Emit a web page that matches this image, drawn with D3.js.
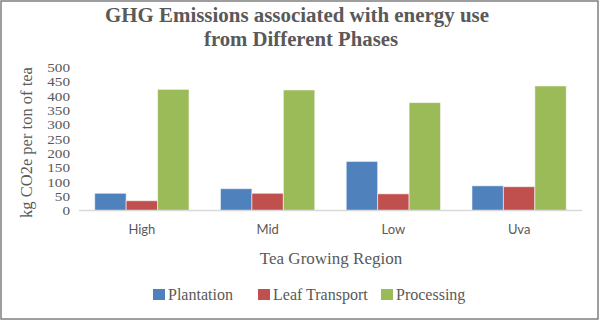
<!DOCTYPE html>
<html>
<head>
<meta charset="utf-8">
<script src="https://cdn.jsdelivr.net/npm/d3@7"></script>
<style>
html,body{margin:0;padding:0;background:#fff;}
svg{display:block;}
.serif{font-family:"Liberation Serif","Times New Roman",Times,"DejaVu Serif",serif;}
.sans{font-family:Lato,"Open Sans","Liberation Sans",sans-serif;}
</style>
</head>
<body>
<svg id="chart" width="600" height="321"></svg>
<script>
const categories = ["High", "Mid", "Low", "Uva"];
const seriesNames = ["Plantation", "Leaf Transport", "Processing"];
const plantation = [60, 76, 171, 86];
const leafTransport = [34, 60, 58, 83];
const processing = [422, 420, 376, 434];
const yTicks = [0, 50, 100, 150, 200, 250, 300, 350, 400, 450, 500];
const colors = ["#4f81bd", "#c0504d", "#9bbb59"];

(function () {
const series = [plantation, leafTransport, processing];
const svg = d3.select("#chart");
const textColor = "#595959";

// border
svg.append("rect").attr("x", 1).attr("y", 1).attr("width", 597).attr("height", 318)
  .attr("fill", "#fff").attr("stroke", "#7f7f7f").attr("stroke-width", 1.5);

const plotLeft = 79, plotRight = 582, plotTop = 67, plotBottom = 210.5;

const x = d3.scaleBand().domain(categories).range([plotLeft, plotRight]).paddingInner(0.25).paddingOuter(0.125);
const xs = d3.scaleBand().domain(seriesNames).range([0, x.bandwidth()]).padding(0);
const y = d3.scaleLinear().domain([0, 500]).range([plotBottom, plotTop]);

// Title
const title = svg.append("g").attr("class", "serif")
  .attr("font-weight", "bold").attr("font-size", 20).attr("fill", textColor).attr("text-anchor", "middle");
title.append("text").attr("x", 297).attr("y", 22).attr("textLength", 384).attr("lengthAdjust", "spacingAndGlyphs")
  .text("GHG Emissions associated with energy use");
title.append("text").attr("x", 301).attr("y", 46).attr("textLength", 194).attr("lengthAdjust", "spacingAndGlyphs")
  .text("from Different Phases");

// Bars
const groups = svg.append("g").selectAll("g").data(categories).join("g")
  .attr("transform", d => `translate(${x(d)},0)`);
groups.selectAll("rect").data((c, i) => seriesNames.map((s, j) => ({s, v: series[j][i], j})))
  .join("rect")
  .attr("x", d => xs(d.s))
  .attr("y", d => y(d.v))
  .attr("width", xs.bandwidth())
  .attr("height", d => y(0) - y(d.v))
  .attr("fill", d => colors[d.j])
  .attr("stroke", "#ffffff").attr("stroke-opacity", 0.55).attr("stroke-width", 1);

// X axis line
svg.append("line").attr("x1", plotLeft).attr("x2", plotRight).attr("y1", plotBottom).attr("y2", plotBottom)
  .attr("stroke", "#d9d9d9").attr("stroke-width", 1.5);

// Y axis tick labels
const yAxis = d3.axisLeft(y).tickValues(yTicks).tickSize(0).tickPadding(0);
const yg = svg.append("g").attr("transform", "translate(70,0)").call(yAxis)
  .attr("font-family", null).attr("font-size", null).attr("class", "serif");
yg.select(".domain").remove();
yg.selectAll("text").style("font-size", "13.5px").attr("fill", textColor).attr("dy", "0.33em")
  .attr("textLength", d => String(d).length * 7.6).attr("lengthAdjust", "spacingAndGlyphs");

// X axis labels
const xAxis = d3.axisBottom(x).tickSize(0).tickPadding(0);
const xg = svg.append("g").attr("transform", "translate(0,222)").call(xAxis)
  .attr("font-family", null).attr("font-size", null).attr("class", "sans");
xg.select(".domain").remove();
xg.selectAll("text").style("font-size", "13px").attr("fill", textColor).attr("dy", "0.95em");

// Axis titles
svg.append("text").attr("class", "serif").attr("x", 331).attr("y", 264).attr("text-anchor", "middle")
  .style("font-size", "17px").attr("fill", textColor).text("Tea Growing Region");
svg.append("text").attr("class", "serif").attr("transform", "translate(32,142.5) rotate(-90)").attr("text-anchor", "middle")
  .style("font-size", "16.5px").attr("fill", textColor).text("kg CO2e per ton of tea");

// Legend
const legendX = [153, 258, 381];
const lg = svg.append("g").selectAll("g").data(seriesNames).join("g")
  .attr("transform", (d, i) => `translate(${legendX[i]},289)`);
lg.append("rect").attr("width", 12).attr("height", 11).attr("fill", (d, i) => colors[i]);
lg.append("text").attr("class", "serif").attr("x", 15).attr("y", 11)
  .style("font-size", "16px").attr("fill", textColor).text(d => d);
})();
</script>
</body>
</html>
